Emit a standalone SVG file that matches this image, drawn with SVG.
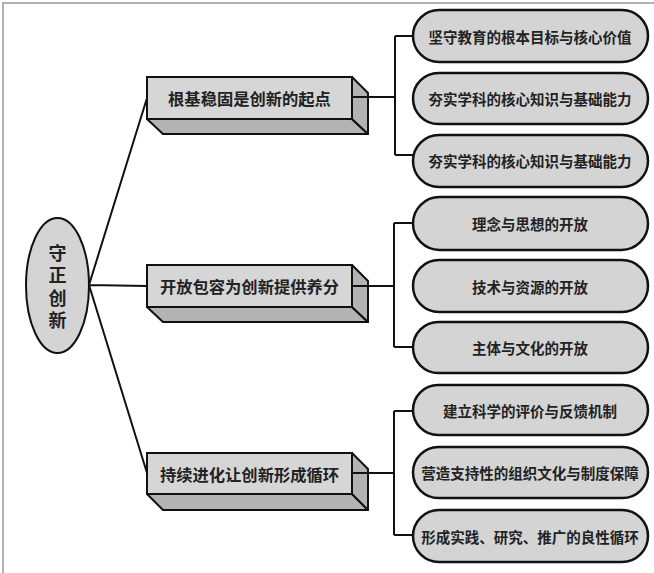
<svg xmlns="http://www.w3.org/2000/svg" width="654" height="573" viewBox="0 0 654 573">
<style>
.t{font-family:"Noto Sans CJK SC","Noto Sans",sans-serif;font-weight:bold;fill:#222;text-anchor:middle;dominant-baseline:central}
.pill{fill:#d4d4d4;stroke:#111;stroke-width:2.5}
.front{fill:#d6d6d6;stroke:#111;stroke-width:2}
.side{fill:#b3b3b3;stroke:#111;stroke-width:2;stroke-linejoin:round}
.c{fill:none;stroke:#111;stroke-width:2}
.pt{font-size:14.5px}
.bt{font-size:16.3px}
</style>
<rect width="654" height="573" fill="#fff"/>
<path d="M3,573 V3 H654" fill="none" stroke="#999" stroke-width="1.5"/>
<g id="connectors">
<path class="c" d="M89,285 L147,98 M89,285 L147,286 M89,285 L147,473"/>
<path class="c" d="M352,97 H395 M395,36 V155 M395,36 H414 M395,155 H414"/>
<path class="c" d="M352,286 H394 M394,223 V347 M394,223 H414 M394,347 H414"/>
<path class="c" d="M352,473 H394 M394,411 V535 M394,411 H414 M394,535 H414"/>
</g>
<g id="root">
<ellipse cx="57.5" cy="285.5" rx="31.5" ry="67.5" fill="#d4d4d4" stroke="#111" stroke-width="2"/>
<text class="t" x="57.5" y="289" font-size="18" writing-mode="vertical-rl" letter-spacing="4.5">守正创新</text>
</g>
<g id="box1">
<polygon class="side" points="147,119 352,119 368,134 163,134"/>
<polygon class="side" points="352,77 368,93 368,134 352,119"/>
<rect class="front" x="147" y="77" width="205" height="42"/>
<line class="c" x1="352" y1="97" x2="368" y2="97"/>
<text class="t bt" x="249.5" y="98">根基稳固是创新的起点</text>
</g>
<g id="box2">
<polygon class="side" points="147,307 352,307 368,322 163,322"/>
<polygon class="side" points="352,265 368,281 368,322 352,307"/>
<rect class="front" x="147" y="265" width="205" height="42"/>
<line class="c" x1="352" y1="286" x2="368" y2="286"/>
<text class="t bt" x="249.5" y="286">开放包容为创新提供养分</text>
</g>
<g id="box3">
<polygon class="side" points="147,494 352,494 368,510 163,510"/>
<polygon class="side" points="352,453 368,469 368,510 352,494"/>
<rect class="front" x="147" y="453" width="205" height="41"/>
<line class="c" x1="352" y1="473" x2="368" y2="473"/>
<text class="t bt" x="249.5" y="473.5">持续进化让创新形成循环</text>
</g>
<g id="p1"><rect class="pill" x="413" y="10" width="235" height="52" rx="26"/><text class="t pt" x="530" y="36">坚守教育的根本目标与核心价值</text></g>
<g id="p2"><rect class="pill" x="413" y="73" width="235" height="51" rx="25.5"/><text class="t pt" x="530" y="98.5">夯实学科的核心知识与基础能力</text></g>
<g id="p3"><rect class="pill" x="413" y="135" width="235" height="52" rx="26"/><text class="t pt" x="530" y="160">夯实学科的核心知识与基础能力</text></g>
<g id="p4"><rect class="pill" x="413" y="197" width="235" height="53" rx="26.5"/><text class="t pt" x="530" y="223.5">理念与思想的开放</text></g>
<g id="p5"><rect class="pill" x="413" y="260" width="235" height="52" rx="26"/><text class="t pt" x="530" y="286">技术与资源的开放</text></g>
<g id="p6"><rect class="pill" x="413" y="322" width="235" height="51" rx="25.5"/><text class="t pt" x="530" y="347.5">主体与文化的开放</text></g>
<g id="p7"><rect class="pill" x="413" y="385" width="235" height="50" rx="25"/><text class="t pt" x="530" y="410">建立科学的评价与反馈机制</text></g>
<g id="p8"><rect class="pill" x="413" y="447" width="235" height="51" rx="25.5"/><text class="t pt" x="530" y="472.5">营造支持性的组织文化与制度保障</text></g>
<g id="p9"><rect class="pill" x="413" y="510" width="235" height="52" rx="26"/><text class="t pt" x="530" y="536">形成实践、研究、推广的良性循环</text></g>
</svg>
